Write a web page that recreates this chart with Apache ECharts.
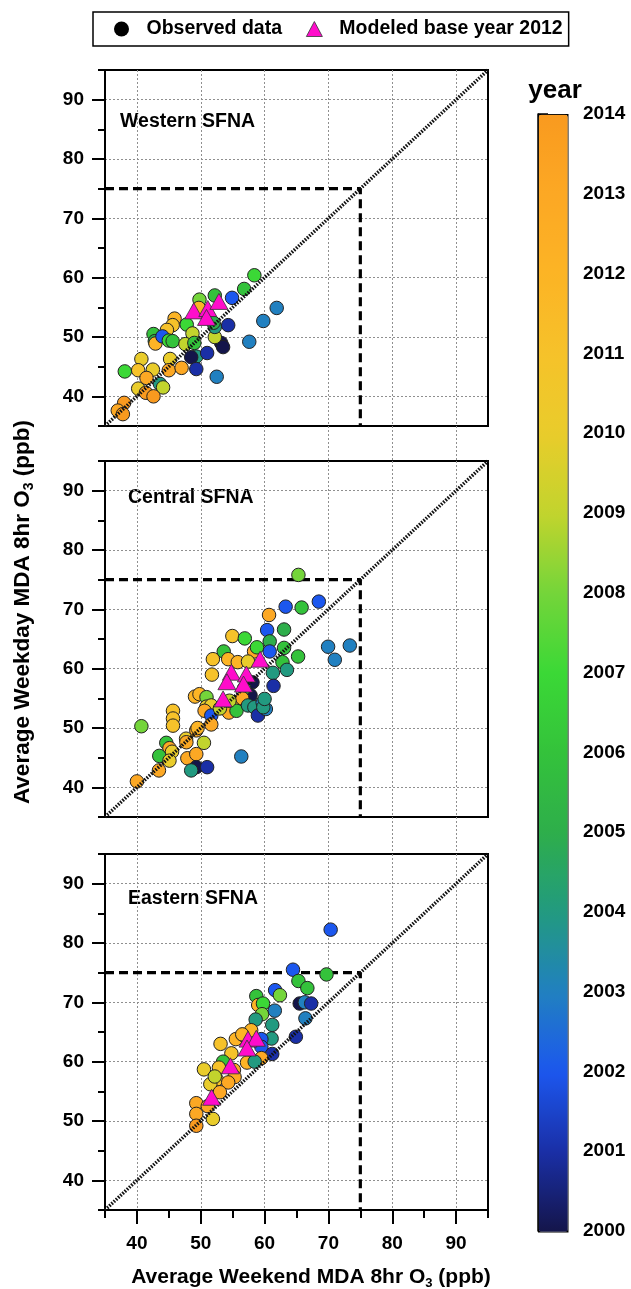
<!DOCTYPE html>
<html>
<head>
<meta charset="utf-8">
<script src="https://cdn.jsdelivr.net/npm/echarts@6/dist/echarts.min.js"></script>
<style>
  html, body { margin: 0; padding: 0; background: #fff; }
  #chart { width: 631px; height: 1289px; }
</style>
</head>
<body>
<div id="chart"></div>
<script>
// ---- axis & colour scale ----
const axisMin = 35, axisMax = 95;
const majorTicks = [40, 50, 60, 70, 80, 90];
const standard = 75;                     // ozone standard, ppb
const yearMin = 2000, yearMax = 2014;
const yearColors = ['#14154a', '#1a2fa6', '#1c57ee', '#2180c0', '#229a80', '#2eae4b', '#34c23b',
                    '#3bd836', '#74d53a', '#c2d42d', '#e9cc2b', '#f6c22a', '#fcb425', '#fca824', '#f99a1f'];

// ---- Western SFNA ----
const westWeekend = [58.4, 56.8, 54.9, 61.9, 59.8, 57.6, 52.5, 54.3, 53.2, 53.5, 52.2, 52.2, 49.8, 49.7, 45.9, 45.6,
                     44.7, 42.6, 42.8, 42.9, 44.0, 45.0, 45.6, 47.8, 48.7, 47.6, 49.0, 49.3, 48.5, 51.0, 49.3, 52.2,
                     52.0, 40.7, 40.2, 38.1, 42.5, 41.5, 45.2, 45.0, 47.0, 43.6, 44.1, 40.2, 41.4, 42.6, 38.0, 37.0, 37.8];
const westWeekday = [60.4, 58.1, 56.6, 54.9, 52.7, 49.2, 43.3, 52.0, 49.0, 48.3, 50.0, 57.0, 56.3, 54.9, 53.1, 52.0,
                     51.2, 50.5, 49.3, 48.9, 50.1, 49.4, 49.3, 52.1, 50.6, 48.8, 49.0, 46.7, 46.6, 47.3, 44.6, 51.7,
                     52.4, 46.3, 44.4, 44.2, 44.5, 43.1, 46.3, 44.4, 44.8, 42.1, 41.5, 41.3, 40.6, 40.0, 38.9, 37.6, 37.0];
const westYear    = [2007, 2006, 2002, 2003, 2003, 2003, 2003, 2001, 2000, 2000, 2009, 2006, 2008, 2012, 2012, 2011,
                     2011, 2006, 2005, 2012, 2002, 2007, 2006, 2007, 2009, 2009, 2006, 2004, 2000, 2001, 2001, 2004,
                     2005, 2010, 2011, 2007, 2010, 2013, 2010, 2013, 2013, 2004, 2009, 2010, 2014, 2014, 2014, 2013, 2014];
const westModelWeekend = [48.9, 51.1, 52.85, 50.9];
const westModelWeekday = [54.4, 54.8, 56.0, 53.3];

// ---- Central SFNA ----
const centWeekend = [65.3, 68.5, 63.3, 65.8, 60.7, 60.4, 63.05, 54.95, 56.9, 60.8, 53.6, 60.8, 63.05, 69.95, 73.35, 71.0,
                     65.25, 58.35, 58.8, 51.9, 54.3, 55.8, 57.4, 62.8, 61.3, 63.5, 51.75, 58.1, 61.4, 57.8, 56.8, 49.1,
                     49.8, 50.9, 50.9, 51.65, 50.6, 51.65, 51.65, 54.4, 55.7, 56.5, 55.6, 57.4, 58.4, 58.95, 59.7, 60.2,
                     59.8, 60.0, 45.65, 45.65, 45.65, 40.7, 47.7, 47.75, 49.3, 49.5, 50.5, 44.6, 45.1, 45.5, 43.5, 45.1,
                     47.9, 49.3, 49.3, 51.0, 48.5, 43.45, 40.0, 56.35, 54.5, 53.0];
const centWeekday = [75.8, 71.3, 70.45, 70.3, 69.05, 66.5, 66.6, 65.5, 65.1, 64.6, 62.9, 62.9, 63.5, 63.7, 63.9, 61.5,
                     62.05, 62.9, 63.6, 61.6, 61.6, 61.1, 61.2, 61.1, 59.3, 59.8, 59.0, 57.7, 57.1, 55.5, 56.7, 55.3,
                     55.7, 55.2, 53.6, 53.8, 52.9, 52.1, 50.6, 52.6, 54.3, 55.0, 52.9, 53.8, 53.5, 52.1, 54.3, 53.2,
                     53.5, 54.9, 52.9, 51.6, 50.4, 50.3, 48.2, 47.6, 49.6, 50.0, 47.5, 47.5, 46.6, 46.0, 45.3, 44.5,
                     44.9, 45.6, 43.4, 43.4, 42.85, 42.85, 41.0, 45.2, 54.6, 53.3];
const centYear    = [2008, 2002, 2002, 2006, 2013, 2002, 2005, 2011, 2007, 2005, 2006, 2002, 2006, 2003, 2003, 2003,
                     2006, 2013, 2007, 2011, 2012, 2012, 2010, 2006, 2004, 2004, 2011, 2000, 2001, 2000, 2006, 2012,
                     2012, 2008, 2010, 2010, 2013, 2002, 2013, 2013, 2013, 2013, 2006, 2004, 2004, 2001, 2003, 2003,
                     2004, 2004, 2011, 2011, 2011, 2008, 2010, 2013, 2013, 2012, 2009, 2006, 2013, 2010, 2006, 2010,
                     2013, 2013, 2000, 2001, 2004, 2013, 2013, 2003, 2009, 2009];
const centModelWeekend = [53.5, 54.8, 54.1, 57.15, 56.7, 59.3];
const centModelWeekday = [54.9, 59.4, 57.8, 59.1, 57.4, 61.6];

// ---- Eastern SFNA ----
const eastWeekend = [70.35, 64.45, 69.7, 65.3, 66.7, 61.65, 62.4, 58.7, 65.5, 66.3, 67.3, 59.0, 59.75, 59.6, 61.6, 58.6,
                     66.4, 61.2, 61.1, 53.1, 55.5, 56.65, 57.9, 59.5, 64.9, 59.5, 61.2, 59.5, 54.8, 57.25, 58.45, 53.5,
                     50.5, 52.85, 55.2, 55.3, 52.5, 54.3, 51.5, 53.0, 49.3, 49.3, 49.3, 51.9, 51.1, 56.5, 52.2];
const eastWeekday = [82.25, 75.5, 74.7, 73.6, 72.4, 72.05, 71.2, 71.05, 69.8, 70.0, 69.8, 69.55, 69.8, 68.0, 68.6, 67.1,
                     67.3, 66.2, 63.9, 63.0, 63.8, 64.5, 65.3, 63.8, 64.2, 62.5, 61.3, 60.6, 61.4, 59.85, 60.0, 60.0,
                     58.7, 59.0, 58.6, 57.4, 57.0, 56.5, 56.2, 54.85, 53.0, 51.2, 49.2, 50.35, 52.5, 64.6, 57.5];
const eastYear    = [2002, 2002, 2006, 2006, 2006, 2002, 2008, 2006, 2000, 2003, 2001, 2012, 2007, 2008, 2003, 2004,
                     2003, 2004, 2004, 2011, 2012, 2011, 2012, 2002, 2001, 2002, 2001, 2013, 2011, 2012, 2004, 2006,
                     2010, 2011, 2013, 2013, 2011, 2013, 2010, 2013, 2013, 2013, 2014, 2010, 2013, 2012, 2009];
const eastModelWeekend = [51.7, 54.65, 57.4, 58.7, 57.25];
const eastModelWeekday = [54.0, 59.3, 63.8, 63.95, 62.3];

// ---- page layout ----
const FONT = "'Liberation Sans', Arial, Helvetica, sans-serif";
const plotLeft = 105, plotWidth = 383, plotHeight = 356;
const plotTops = [70, 461, 854];
const panelNames = ['Western SFNA', 'Central SFNA', 'Eastern SFNA'];
const panelTitlePos = [[120, 122], [128, 498], [128, 899]];
const MAGENTA = '#ff0ccb';

const panels = [
  { obsX: westWeekend, obsY: westWeekday, year: westYear, modX: westModelWeekend, modY: westModelWeekday },
  { obsX: centWeekend, obsY: centWeekday, year: centYear, modX: centModelWeekend, modY: centModelWeekday },
  { obsX: eastWeekend, obsY: eastWeekday, year: eastYear, modX: eastModelWeekend, modY: eastModelWeekday }
];

const zip = (xs, ys, extra) => xs.map((x, i) => extra ? [x, ys[i], extra[i]] : [x, ys[i]]);
const gridLineColors = ['rgba(0,0,0,0)', '#8f8f8f'];
const majorOnly = v => (v % 10 === 0 ? String(v) : '');

const grids = [], xAxes = [], yAxes = [], series = [], observedIdx = [];

panels.forEach((p, i) => {
  const isBottom = i === panels.length - 1;
  grids.push({ left: plotLeft, top: plotTops[i], width: plotWidth, height: plotHeight,
               show: true, borderColor: '#000', borderWidth: 2, backgroundColor: 'transparent' });

  // minor ticks (every 5) + dotted grid lines at the tens
  xAxes.push({
    type: 'value', gridIndex: i, position: 'bottom', min: axisMin, max: axisMax, interval: 5,
    axisLine: { show: true, lineStyle: { color: '#000', width: 2 } },
    axisTick: { show: isBottom, length: 8, lineStyle: { color: '#000', width: 2 } },
    axisLabel: { show: isBottom, formatter: majorOnly, margin: 24, color: '#000',
                 fontFamily: FONT, fontWeight: 'bold', fontSize: 19 },
    splitLine: { show: true, lineStyle: { color: gridLineColors, type: [2, 2], width: 1 } }
  });
  // major ticks at the tens
  xAxes.push({
    type: 'value', gridIndex: i, position: 'bottom', min: axisMin, max: axisMax,
    axisLine: { show: false }, axisLabel: { show: false }, splitLine: { show: false },
    axisTick: isBottom
      ? { show: true, customValues: majorTicks, length: 14, lineStyle: { color: '#000', width: 2 } }
      : { show: true, customValues: majorTicks, length: 36, lineStyle: { color: '#8f8f8f', width: 1, type: [2, 2] } }
  });
  yAxes.push({
    type: 'value', gridIndex: i, position: 'left', min: axisMin, max: axisMax, interval: 5,
    axisLine: { show: true, lineStyle: { color: '#000', width: 2 } },
    axisTick: { show: true, length: 7, lineStyle: { color: '#000', width: 2 } },
    axisLabel: { show: true, formatter: majorOnly, margin: 21, color: '#000',
                 fontFamily: FONT, fontWeight: 'bold', fontSize: 19 },
    splitLine: { show: true, lineStyle: { color: gridLineColors, type: [2, 2], width: 1 } }
  });
  yAxes.push({
    type: 'value', gridIndex: i, position: 'left', min: axisMin, max: axisMax,
    axisLine: { show: false }, axisLabel: { show: false }, splitLine: { show: false },
    axisTick: { show: true, customValues: majorTicks, length: 13, lineStyle: { color: '#000', width: 2 } }
  });

  const xi = 2 * i, yi = 2 * i;
  // 75 ppb standard: weekday level across, weekend level down
  series.push({
    type: 'line', name: 'standard', xAxisIndex: xi, yAxisIndex: yi, silent: true, z: 1,
    symbol: 'none', data: [[axisMin, standard], [standard, standard], [standard, axisMin]],
    lineStyle: { color: '#000', width: 3.2, type: [9, 5] }
  });
  observedIdx.push(series.length);
  series.push({
    type: 'scatter', name: 'Observed data', xAxisIndex: xi, yAxisIndex: yi, z: 2,
    symbol: 'circle', symbolSize: 13.5,
    itemStyle: { borderColor: '#222', borderWidth: 1, opacity: 1 },
    data: zip(p.obsX, p.obsY, p.year)
  });
  // 1:1 line
  series.push({
    type: 'line', name: 'one-to-one', xAxisIndex: xi, yAxisIndex: yi, silent: true, z: 3,
    symbol: 'none', data: [[axisMin, axisMin], [axisMax, axisMax]],
    lineStyle: { color: '#111', width: 3.5, type: [1.6, 1.4] }
  });
  series.push({
    type: 'scatter', name: 'Modeled base year 2012', xAxisIndex: xi, yAxisIndex: yi, z: 4,
    symbol: 'triangle', symbolSize: [18, 16],
    itemStyle: { color: MAGENTA, borderColor: '#333', borderWidth: 0.8, opacity: 1 },
    data: zip(p.modX, p.modY)
  });
});

// colour bar axis (years)
grids.push({ left: 538, top: 114, width: 29, height: 1117, show: false });
xAxes.push({ type: 'value', gridIndex: 3, show: false, min: 0, max: 1 });
yAxes.push({
  type: 'value', gridIndex: 3, position: 'right', min: yearMin, max: yearMax, interval: 1,
  axisLine: { show: true, lineStyle: { color: '#000', width: 1.5 } },
  axisTick: { show: true, length: 10, lineStyle: { color: '#000', width: 1.5 } },
  axisLabel: { show: true, margin: 16, color: '#000', fontFamily: FONT, fontWeight: 'bold', fontSize: 19,
               formatter: v => String(v) },
  splitLine: { show: false }
});
series.push({ type: 'scatter', name: 'colorbar', xAxisIndex: 6, yAxisIndex: 6, data: [], silent: true });

const richTitle = size => ({
  a: { fontFamily: FONT, fontWeight: 'bold', fontSize: size, fill: '#000', color: '#000' },
  s: { fontFamily: FONT, fontWeight: 'bold', fontSize: Math.round(size * 0.62), fill: '#000', color: '#000',
       verticalAlign: 'bottom', padding: [Math.round(size * 0.55), 0, 0, 0] }
});

const graphics = panelNames.map((name, i) => ({
  type: 'text', x: panelTitlePos[i][0], y: panelTitlePos[i][1], silent: true,
  style: { text: name, font: `bold 19.5px ${FONT}`, fill: '#000', align: 'left', verticalAlign: 'middle' }
}));
graphics.push({
  type: 'text', x: 555, y: 91, silent: true,
  style: { text: 'year', font: `bold 26px ${FONT}`, fill: '#000', align: 'center', verticalAlign: 'middle' }
});
graphics.push({
  type: 'text', x: 311, y: 1277, silent: true,
  style: { text: '{a|Average Weekend MDA 8hr O}{s|3}{a| (ppb)}', rich: richTitle(21),
           align: 'center', verticalAlign: 'middle' }
});
graphics.push({
  type: 'text', x: 23, y: 612, rotation: Math.PI / 2, silent: true,
  style: { text: '{a|Average Weekday MDA 8hr O}{s|3}{a| (ppb)}', rich: richTitle(22.5),
           align: 'center', verticalAlign: 'middle' }
});

const option = {
  animation: false,
  backgroundColor: '#fff',
  grid: grids,
  xAxis: xAxes,
  yAxis: yAxes,
  legend: {
    left: 93, top: 12, orient: 'horizontal', selectedMode: false,
    padding: [7, 6, 7, 21], borderColor: '#000', borderWidth: 1.5,
    itemWidth: 16, itemHeight: 15, itemGap: 24,
    textStyle: { fontFamily: FONT, fontWeight: 'bold', fontSize: 19.5, color: '#000', padding: [0, 0, 0, 12] },
    data: [
      { name: 'Observed data', icon: 'circle', itemStyle: { color: '#000', borderWidth: 0, opacity: 1 } },
      { name: 'Modeled base year 2012', icon: 'triangle',
        itemStyle: { color: MAGENTA, borderColor: '#333', borderWidth: 0.8, opacity: 1 } }
    ]
  },
  visualMap: {
    type: 'continuous', min: yearMin, max: yearMax, dimension: 2, seriesIndex: observedIdx,
    inRange: { color: yearColors }, calculable: false, hoverLink: false, realtime: false,
    orient: 'vertical', left: 538, top: 114, itemWidth: 29, itemHeight: 1117,
    text: null, padding: 0, borderColor: '#000', borderWidth: 1.5
  },
  graphic: graphics,
  series: series
};

const chart = echarts.init(document.getElementById('chart'), null, { renderer: 'canvas', width: 631, height: 1289 });
chart.setOption(option);
</script>
</body>
</html>
